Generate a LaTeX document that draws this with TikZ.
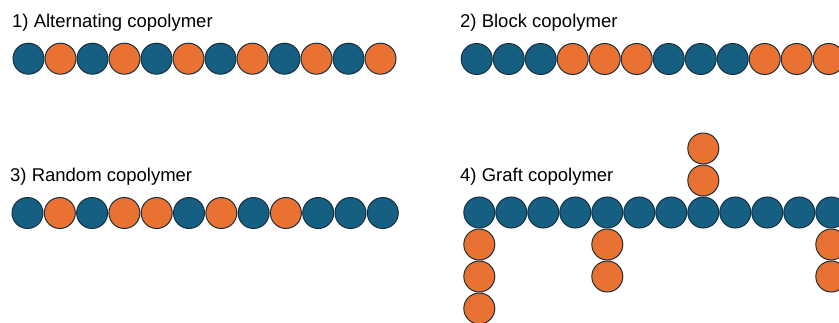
\documentclass[tikz,border=0pt]{standalone}
\usepackage{fontspec}
\setmainfont{Liberation Sans}
\definecolor{cblue}{HTML}{156082}
\definecolor{corange}{HTML}{E97132}
\definecolor{cedge}{HTML}{1A2E3B}
\tikzset{
  bead/.style={circle, draw=cedge, line width=1pt, minimum size=31pt, inner sep=0pt},
  B/.style={bead, fill=cblue},
  O/.style={bead, fill=corange},
  title/.style={anchor=base west, inner sep=0pt, font=\fontsize{18.5}{20}\selectfont, text=black}
}
\begin{document}
\begin{tikzpicture}[x=1pt,y=-1pt]
\useasboundingbox (0,0) rectangle (839,322);
% titles
\node[title] (t1) at (12,27) {1) Alternating copolymer};
\node[title] (t2) at (460,27.5) {2) Block copolymer};
\node[title] (t3) at (10,181) {3) Random copolymer};
\node[title] (t4) at (460,181) {4) Graft copolymer};
% 1) alternating
\foreach \s [count=\i from 0] in {B,O,B,O,B,O,B,O,B,O,B,O}
  \node[\s] (a\i) at (28.5+32*\i,58.7) {};
% 2) block
\foreach \s [count=\i from 0] in {B,B,B,O,O,O,B,B,B,O,O,O}
  \node[\s] (b\i) at (476.7+32*\i,59) {};
% 3) random
\foreach \s [count=\i from 0] in {B,O,B,O,O,B,O,B,O,B,B,B}
  \node[\s] (r\i) at (27.5+32.3*\i,213) {};
% 4) graft backbone
\foreach \i in {0,...,11}
  \node[B] (g\i) at (479.3+32*\i,212.5) {};
% branches
\node[O] (g0a) at (479.3,244.5) {};
\node[O] (g0b) at (479.3,276.5) {};
\node[O] (g0c) at (479.3,308.5) {};
\node[O] (g4a) at (607.3,244.5) {};
\node[O] (g4b) at (607.3,276.5) {};
\node[O] (g7a) at (703.3,180.5) {};
\node[O] (g7b) at (703.3,148.5) {};
\node[O] (g11a) at (831.3,244.5) {};
\node[O] (g11b) at (831.3,276.5) {};
\end{tikzpicture}
\end{document}
